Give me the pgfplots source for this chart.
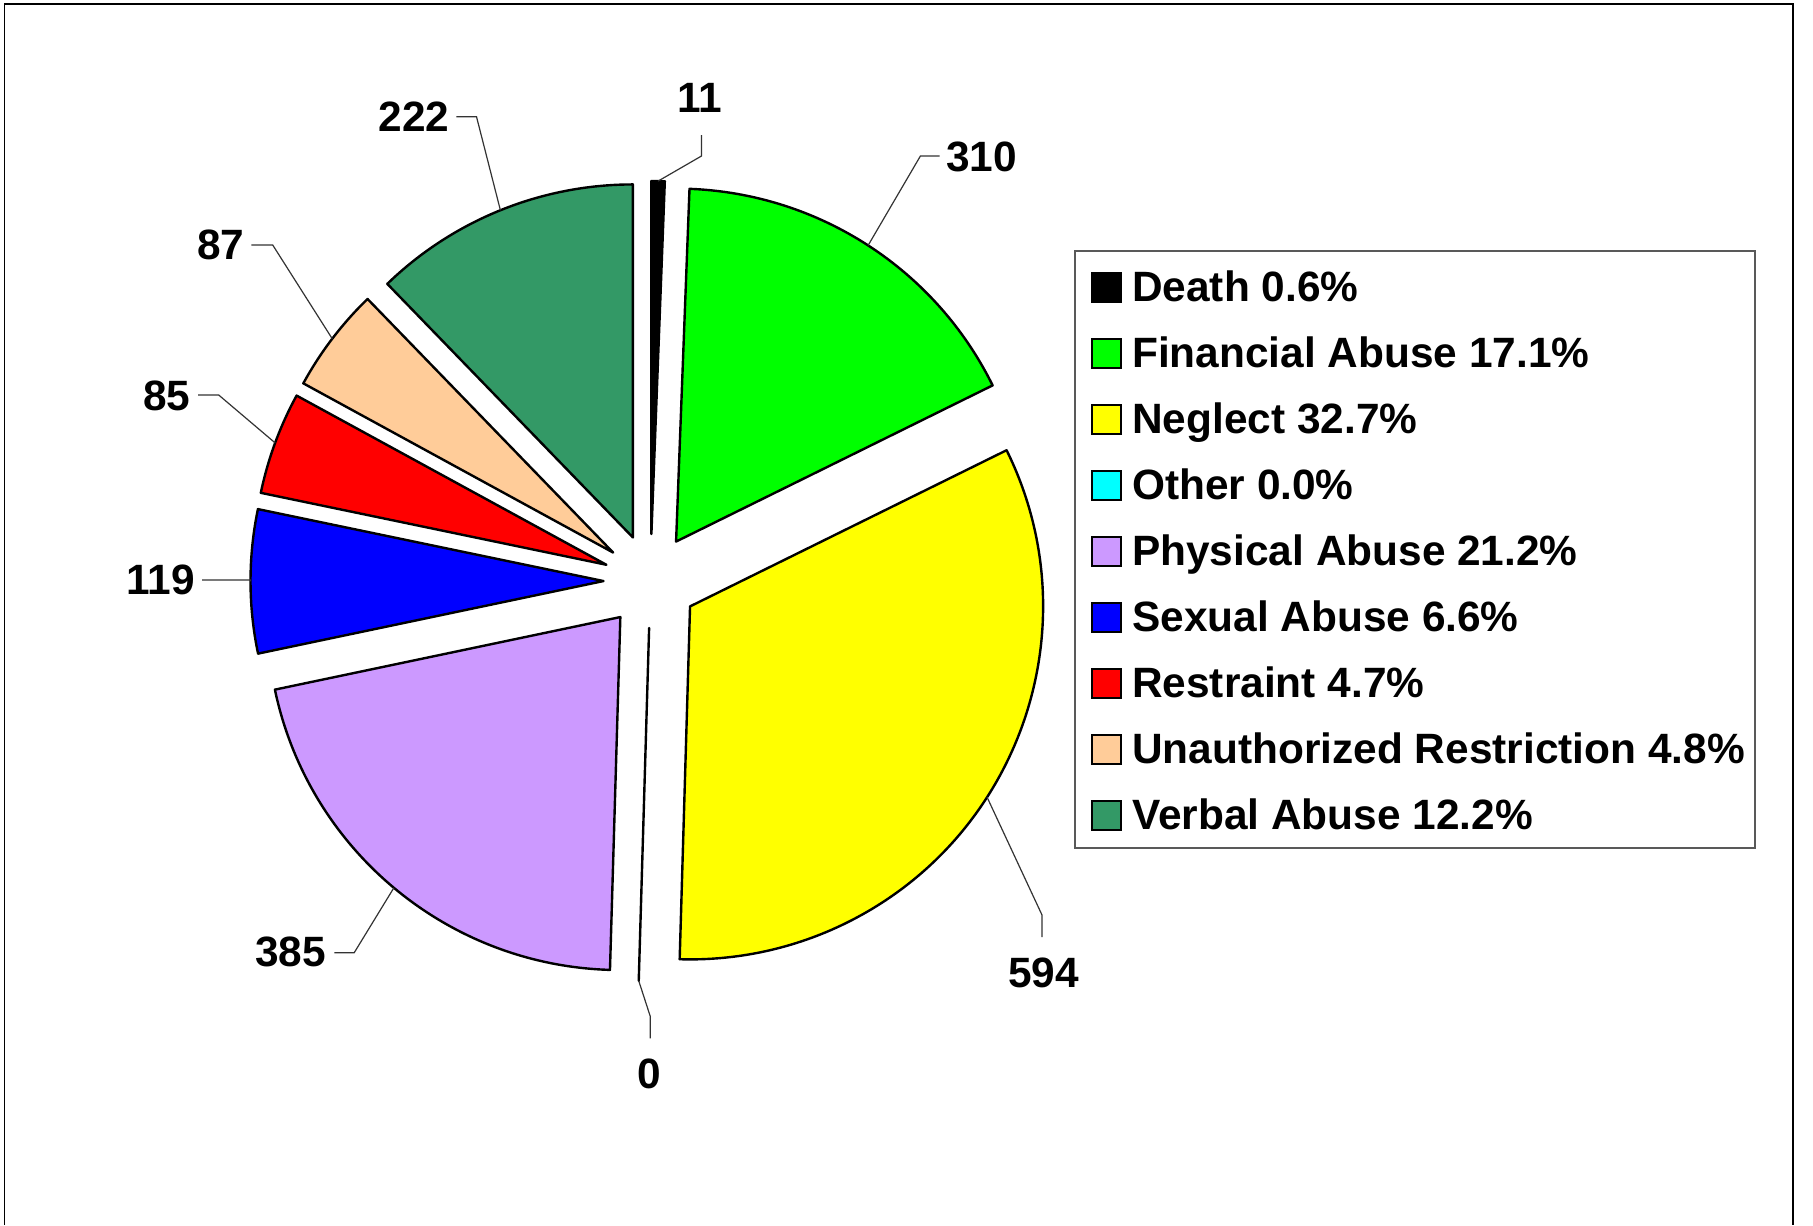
\documentclass[border=0pt]{standalone}
\usepackage{fontspec}
\setmainfont{Liberation Sans}
\usepackage{pgfplots}
\usepackage{pgfplotstable}
\pgfplotsset{compat=1.18}

\definecolor{cDeath}{RGB}{0,0,0}
\definecolor{cFin}{RGB}{0,255,0}
\definecolor{cNeg}{RGB}{255,255,0}
\definecolor{cOth}{RGB}{0,255,255}
\definecolor{cPhy}{RGB}{204,153,255}
\definecolor{cSex}{RGB}{0,0,255}
\definecolor{cRes}{RGB}{255,0,0}
\definecolor{cUna}{RGB}{255,204,153}
\definecolor{cVer}{RGB}{51,153,102}

% value, colour, legend text, label centre, leader elbow, leader end (image pixel coords)
\pgfplotstableread[col sep=comma]{
value,col,name,lx,ly,ex,ey,fx,fy
11,cDeath,Death 0.6\%,700,98,701.5,156,701.5,135
310,cFin,Financial Abuse 17.1\%,981.5,157,920.4,156,939.6,156
594,cNeg,Neglect 32.7\%,1043.5,972.6,1042,915,1042,937
0,cOth,Other 0.0\%,649,1073.7,650.3,1016.5,650.3,1038.4
385,cPhy,Physical Abuse 21.2\%,290.5,951.7,354.2,952.7,334.4,952.7
119,cSex,Sexual Abuse 6.6\%,160.5,580,250.5,580,202,580
85,cRes,Restraint 4.7\%,167,395.6,218.7,395,198,395
87,cUna,Unauthorized Restriction 4.8\%,221,245,272.7,245,251.4,245
222,cVer,Verbal Abuse 12.2\%,414,116.7,476.5,116.7,456.4,116.7
}\piedata

\newcommand\cx{650.5}
\newcommand\cy{581}
\newcommand\Rr{176.5pt}
\newcommand\Ex{23.5pt}
\newcommand\lab{\fontsize{21.2}{25}\selectfont\bfseries}

\begin{document}
\begin{tikzpicture}
\pgfplotstablegetrowsof{\piedata}
\pgfmathtruncatemacro\nrows{\pgfplotsretval-1}
\def\total{0}
\pgfplotsforeachungrouped \i in {0,...,\nrows}{%
  \pgfplotstablegetelem{\i}{value}\of\piedata
  \pgfmathsetmacro\total{\total+\pgfplotsretval}%
}
\begin{axis}[x=0.5pt,y=0.5pt,xmin=0,xmax=1813,ymin=0,ymax=1225,
  y dir=reverse,hide axis,clip=false]
\path[fill=white] (axis cs:0,0) rectangle (axis cs:1813,1225);
\draw[line width=0.9pt,black] (axis cs:4.5,1225) -- (axis cs:4.5,4) -- (axis cs:1793,4) -- (axis cs:1793,1225);
\draw[line width=0.7pt,black!65] (axis cs:1075,251) rectangle (axis cs:1755,848);
\def\cum{0}
\pgfplotsforeachungrouped \i in {0,...,\nrows}{%
  \pgfplotstablegetelem{\i}{value}\of\piedata \let\val\pgfplotsretval
  \pgfplotstablegetelem{\i}{col}\of\piedata \let\col\pgfplotsretval
  \pgfplotstablegetelem{\i}{name}\of\piedata \let\nm\pgfplotsretval
  \pgfplotstablegetelem{\i}{lx}\of\piedata \let\lx\pgfplotsretval
  \pgfplotstablegetelem{\i}{ly}\of\piedata \let\ly\pgfplotsretval
  \pgfplotstablegetelem{\i}{ex}\of\piedata \let\ex\pgfplotsretval
  \pgfplotstablegetelem{\i}{ey}\of\piedata \let\ey\pgfplotsretval
  \pgfplotstablegetelem{\i}{fx}\of\piedata \let\fx\pgfplotsretval
  \pgfplotstablegetelem{\i}{fy}\of\piedata \let\fy\pgfplotsretval
  \pgfmathsetmacro\aA{90-\cum/\total*360}%
  \pgfmathsetmacro\cum{\cum+\val}%
  \pgfmathsetmacro\aB{90-\cum/\total*360}%
  \pgfmathsetmacro\aM{(\aA+\aB)/2}%
  \pgfmathsetmacro\yc{287+66.1*\i}%
  \pgfmathsetmacro\mTop{\yc-14.5}%
  \pgfmathsetmacro\mBot{\yc+14.5}%
  \pgfmathsetmacro\base{\yc+14}%
  \edef\cmd{%
    \noexpand\filldraw[fill=\col,draw=black,line width=1.2pt,line join=round]
      (axis cs:\cx,\cy) ++(\aM:\Ex) -- ++(\aA:\Rr) arc[start angle=\aA,end angle=\aB,radius=\Rr] -- cycle;
    \noexpand\draw[line width=0.6pt,black!80]
      (axis cs:\cx,\cy) ++(\aM:\Ex) ++(\aM:\Rr) -- (axis cs:\ex,\ey) -- (axis cs:\fx,\fy);
    \noexpand\node[inner sep=0pt,font=\noexpand\lab] at (axis cs:\lx,\ly) {\val};
    \noexpand\filldraw[fill=\col,draw=black,line width=1pt] (axis cs:1092,\mTop) rectangle (axis cs:1121,\mBot);
    \noexpand\node[anchor=base west,inner sep=0pt,font=\noexpand\lab] at (axis cs:1131.8,\base) {\nm};
  }\cmd
}
\end{axis}
\end{tikzpicture}
\end{document}
